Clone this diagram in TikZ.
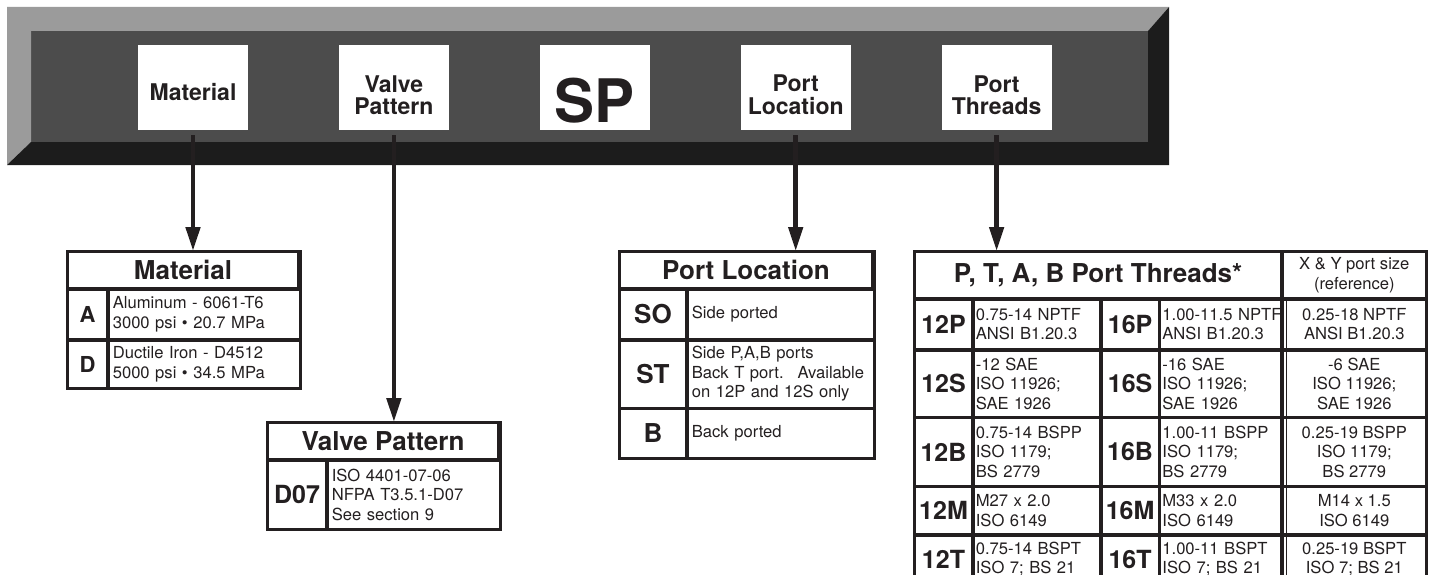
\documentclass[tikz,border=0pt]{standalone}
\usepackage{fontspec}
\setmainfont{TeX Gyre Heros}
\usetikzlibrary{positioning,arrows.meta}
\definecolor{ink}{HTML}{231F20}
\definecolor{barlight}{HTML}{9B9B9B}
\definecolor{barface}{HTML}{4C4C4C}
\definecolor{barshade}{HTML}{1C1C1C}
\newcommand{\keylines}[1]{\begin{tabular}[b]{@{}c@{}}#1\end{tabular}}

\begin{document}
\begin{tikzpicture}[x=1pt,y=-1pt,
  keybox/.style={fill=white,minimum width=110pt,inner sep=0pt,text=ink,
    font=\bfseries\fontsize{23}{20}\selectfont},
  cell/.style={draw=ink,line width=1.8pt,inner sep=0pt,text=ink},
  headcell/.style={cell,minimum width=#1,minimum height=36pt,
    font=\bfseries\fontsize{26}{28}\selectfont},
  codecell/.style={cell,minimum width=#1,font=\bfseries\fontsize{25}{27}\selectfont},
  textcell/.style={cell,inner xsep=4pt,align=left,font=\fontsize{16.6}{19.5}\selectfont},
  sizecell/.style={cell,minimum width=143pt,align=center,font=\fontsize{16.6}{19.5}\selectfont},
  frame/.style={draw=ink,line width=3.2pt},
  pointer/.style={draw=ink,line width=4.5pt,-{Triangle[width=14pt,length=24pt]}}]
\useasboundingbox (0,0) rectangle (1431,575);
% bevelled code bar
\fill[barface] (31,31) rectangle (1148,142);
\fill[barlight] (7,7) -- (1169,7) -- (1148,31) -- (31,31) -- (31,142) -- (7,165) -- cycle;
\fill[barshade] (1169,7) -- (1169,165) -- (7,165) -- (31,142) -- (1148,142) -- (1148,31) -- cycle;
\node[keybox,text height=56pt,text depth=29pt] (matbox) at (193,87.5) {Material};
\node[keybox,text height=70pt,text depth=15pt,right=90.5pt of matbox] (valbox) {\keylines{Valve\\Pattern}};
\node[keybox,text height=78pt,text depth=7pt,font=\bfseries\fontsize{60}{60}\selectfont,
      right=90.5pt of valbox] (spbox) {SP};
\node[keybox,text height=70pt,text depth=15pt,right=90.5pt of spbox] (locbox) {\keylines{Port\\Location}};
\node[keybox,text height=70pt,text depth=15pt,right=90.5pt of locbox] (thrbox) {\keylines{Port\\Threads}};

% material
\node[headcell=230pt] (mattab) at (183,270) {Material};
\node[codecell=39pt,minimum height=49pt,font=\bfseries\fontsize{22}{24}\selectfont,
      below right=0pt of mattab.south west] (matA) {A};
\node[textcell,text width=183pt,minimum height=49pt,right=0pt of matA] (matAd)
  {Aluminum - 6061-T6\\3000 psi \textbullet{} 20.7 MPa};
\node[codecell=39pt,minimum height=47pt,font=\bfseries\fontsize{22}{24}\selectfont,
      below=0pt of matA] (matD) {D};
\node[textcell,text width=183pt,minimum height=47pt,right=0pt of matD] (matDd)
  {Ductile Iron - D4512\\5000 psi \textbullet{} 34.5 MPa};
\draw[frame] (mattab.north west) rectangle (matDd.south east);
\draw[frame] (mattab.south west) -- (mattab.south east);

% valve pattern
\node[headcell=230pt] (valtab) at (383,441) {Valve Pattern};
\node[codecell=58pt,minimum height=68pt,below right=0pt of valtab.south west] (valD) {D07};
\node[textcell,text width=164pt,minimum height=68pt,right=0pt of valD] (valDd)
  {ISO 4401-07-06\\NFPA T3.5.1-D07\\See section 9};
\draw[frame] (valtab.north west) rectangle (valDd.south east);
\draw[frame] (valtab.south west) -- (valtab.south east);

% port location
\node[headcell=252pt] (loctab) at (746,270) {Port Location};
\node[codecell=66pt,minimum height=49pt,font=\bfseries\fontsize{26}{28}\selectfont,
      below right=0pt of loctab.south west] (locSO) {SO};
\node[textcell,text width=178pt,minimum height=49pt,right=0pt of locSO] (locSOd) {Side ported};
\node[codecell=66pt,minimum height=67pt,font=\bfseries\fontsize{26}{28}\selectfont,
      below=0pt of locSO] (locST) {ST};
\node[textcell,text width=178pt,minimum height=67pt,right=0pt of locST] (locSTd)
  {Side P,A,B ports\\Back T port.~ Available\\on 12P and 12S only};
\node[codecell=66pt,minimum height=48pt,font=\bfseries\fontsize{26}{28}\selectfont,
      below=0pt of locST] (locB) {B};
\node[textcell,text width=178pt,minimum height=48pt,right=0pt of locB] (locBd) {Back ported};
\draw[frame] (loctab.north west) rectangle (locBd.south east);
\draw[frame] (loctab.south west) -- (loctab.south east);

% port threads
\node[headcell=366pt,minimum height=46pt] (thrtab) at (1098,275) {P, T, A, B Port Threads*};
\node[sizecell,minimum height=46pt,right=0pt of thrtab] (thrxy) {X \& Y port size\\(reference)};
\node[codecell=57pt,minimum height=49pt,below right=0pt of thrtab.south west] (t12P) {12P};
\node[textcell,inner xsep=2pt,text width=122pt,minimum height=49pt,right=0pt of t12P] (t12Pd)
  {0.75-14 NPTF\\ANSI B1.20.3};
\node[codecell=57pt,minimum height=49pt,right=0pt of t12Pd] (t16P) {16P};
\node[textcell,inner xsep=2pt,text width=122pt,minimum height=49pt,right=0pt of t16P] (t16Pd)
  {1.00-11.5 NPTF\\ANSI B1.20.3};
\node[sizecell,minimum height=49pt,below=0pt of thrxy] (txyP) {0.25-18 NPTF\\ANSI B1.20.3};
\node[codecell=57pt,minimum height=66pt,below=0pt of t12P] (t12S) {12S};
\node[textcell,inner xsep=2pt,text width=122pt,minimum height=66pt,right=0pt of t12S] (t12Sd)
  {-12 SAE\\ISO 11926;\\SAE 1926};
\node[codecell=57pt,minimum height=66pt,right=0pt of t12Sd] (t16S) {16S};
\node[textcell,inner xsep=2pt,text width=122pt,minimum height=66pt,right=0pt of t16S] (t16Sd)
  {-16 SAE\\ISO 11926;\\SAE 1926};
\node[sizecell,minimum height=66pt,below=0pt of txyP] (txyS) {-6 SAE\\ISO 11926;\\SAE 1926};
\node[codecell=57pt,minimum height=67pt,below=0pt of t12S] (t12B) {12B};
\node[textcell,inner xsep=2pt,text width=122pt,minimum height=67pt,right=0pt of t12B] (t12Bd)
  {0.75-14 BSPP\\ISO 1179;\\BS 2779};
\node[codecell=57pt,minimum height=67pt,right=0pt of t12Bd] (t16B) {16B};
\node[textcell,inner xsep=2pt,text width=122pt,minimum height=67pt,right=0pt of t16B] (t16Bd)
  {1.00-11 BSPP\\ISO 1179;\\BS 2779};
\node[sizecell,minimum height=67pt,below=0pt of txyS] (txyB) {0.25-19 BSPP\\ISO 1179;\\BS 2779};
\node[codecell=57pt,minimum height=47pt,below=0pt of t12B] (t12M) {12M};
\node[textcell,inner xsep=2pt,text width=122pt,minimum height=47pt,right=0pt of t12M] (t12Md)
  {M27 x 2.0\\ISO 6149};
\node[codecell=57pt,minimum height=47pt,right=0pt of t12Md] (t16M) {16M};
\node[textcell,inner xsep=2pt,text width=122pt,minimum height=47pt,right=0pt of t16M] (t16Md)
  {M33 x 2.0\\ISO 6149};
\node[sizecell,minimum height=47pt,below=0pt of txyB] (txyM) {M14 x 1.5\\ISO 6149};
\node[codecell=57pt,minimum height=46pt,below=0pt of t12M] (t12T) {12T};
\node[textcell,inner xsep=2pt,text width=122pt,minimum height=46pt,right=0pt of t12T] (t12Td)
  {0.75-14 BSPT\\ISO 7; BS 21};
\node[codecell=57pt,minimum height=46pt,right=0pt of t12Td] (t16T) {16T};
\node[textcell,inner xsep=2pt,text width=122pt,minimum height=46pt,right=0pt of t16T] (t16Td)
  {1.00-11 BSPT\\ISO 7; BS 21};
\node[sizecell,minimum height=46pt,below=0pt of txyM] (txyT) {0.25-19 BSPT\\ISO 7; BS 21};
\draw[frame] (thrtab.north west) rectangle (txyT.south east);
\draw[frame] (thrtab.south west) -- (thrxy.south east);
\draw[frame] (t16P.north west) -- (t16T.south west);
\draw[frame] (thrxy.north west) -- (txyT.south west);

% arrows from the code bar
\draw[pointer] ([yshift=-5pt]matbox.south) -- (matbox.south |- mattab.north);
\draw[pointer] ([yshift=-5pt]valbox.south) -- (valbox.south |- valtab.north);
\draw[pointer] ([yshift=-5pt]locbox.south) -- (locbox.south |- loctab.north);
\draw[pointer] ([yshift=-5pt]thrbox.south) -- (thrbox.south |- thrtab.north);
\end{tikzpicture}
\end{document}
